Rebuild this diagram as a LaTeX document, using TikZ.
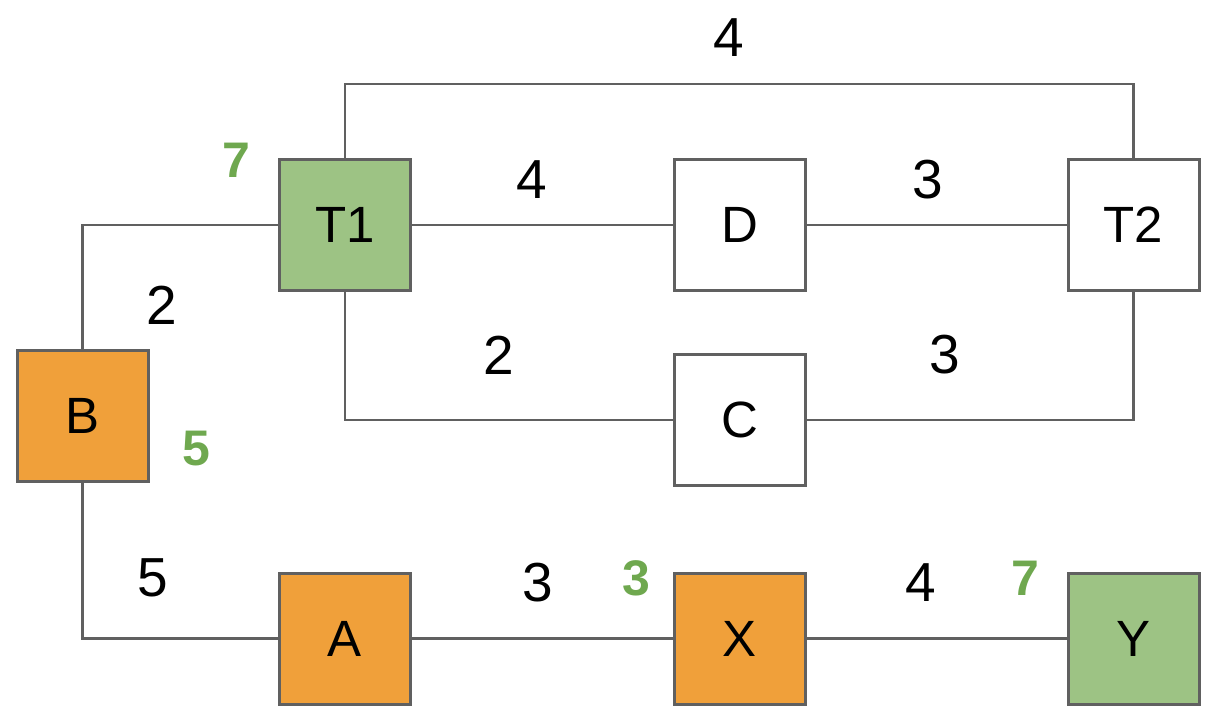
\documentclass[tikz,border=0pt]{standalone}
\usepackage{fontspec}
\setmainfont{Liberation Sans}
\definecolor{boxgreen}{HTML}{9DC384}
\definecolor{boxorange}{HTML}{F0A03A}
\definecolor{txtgreen}{HTML}{6FA84F}
\definecolor{edgegray}{HTML}{606060}
\begin{document}
\begin{tikzpicture}[x=1pt,y=-1pt,
  bx/.style={draw=edgegray,line width=3pt,minimum width=131pt,minimum height=131pt,inner sep=0pt,font=\fontsize{51}{51}\selectfont},
  gbox/.style={bx,fill=boxgreen},
  obox/.style={bx,fill=boxorange},
  wbox/.style={bx,fill=white},
  conn/.style={draw=edgegray,line width=2.5pt},
  wt/.style={inner sep=0pt,font=\fontsize{55}{55}\selectfont},
  gwt/.style={inner sep=0pt,text=txtgreen,font=\fontsize{50}{50}\selectfont\bfseries}]
\useasboundingbox (0,0) rectangle (1230,724);
\coordinate (topc) at (1133.5,84);
\node[gbox] (T1) at (345,225) {T1};
\node[wbox] (D) at (739.5,225) {D};
\node[wbox] (T2) at (1133.5,225) {T2};
\node[obox] (B) at (82.5,415.5) {B};
\node[wbox] (C) at (739.5,420) {C};
\node[obox] (A) at (345,638.5) {A};
\node[obox] (X) at (739.5,638.5) {X};
\node[gbox] (Y) at (1133.5,638.5) {Y};
\draw[conn] (T1.north) |- (topc) -- (T2.north);
\draw[conn] (T1.east) -- (D.west);
\draw[conn] (D.east) -- (T2.west);
\draw[conn] (B.north) |- (T1.west);
\draw[conn] (T1.south) |- (C.west);
\draw[conn] (C.east) -| (T2.south);
\draw[conn] (B.south) |- (A.west);
\draw[conn] (A.east) -- (X.west);
\draw[conn] (X.east) -- (Y.west);
\node[wt] (w1) at (729,38) {4};
\node[wt] (w2) at (532,180) {4};
\node[wt] (w3) at (928,180) {3};
\node[wt] (w4) at (162,305) {2};
\node[wt] (w5) at (499,355) {2};
\node[wt] (w6) at (945,355) {3};
\node[wt] (w7) at (153,578) {5};
\node[wt] (w8) at (538,583) {3};
\node[wt] (w9) at (921,583) {4};
\node[gwt] (g1) at (236,160) {7};
\node[gwt] (g2) at (196,449) {5};
\node[gwt] (g3) at (636,578) {3};
\node[gwt] (g4) at (1025,578) {7};
\end{tikzpicture}
\end{document}
